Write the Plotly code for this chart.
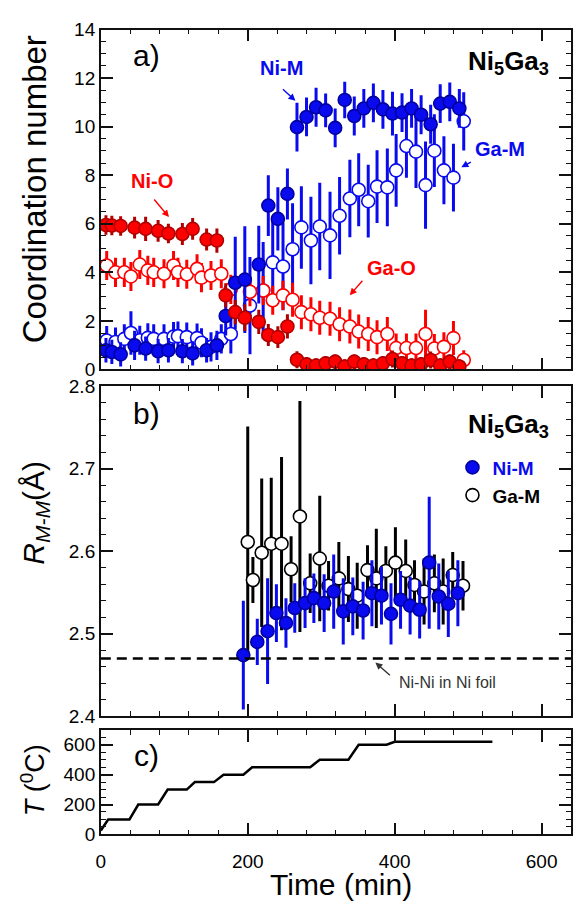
import plotly.graph_objects as go

# ---------------- panel a: coordination numbers ----------------
# Ni K-edge fits
ni_time = [7, 15, 27, 46, 61, 78, 92, 111, 125, 144, 158, 170, 183, 196, 215, 228,
           241, 254, 267, 280, 293, 306, 319, 332, 345, 358, 371, 384, 397, 410,
           423, 436, 449, 462, 475, 488]
ni_m_cn = [0.79, 0.72, 0.62, 0.99, 0.86, 0.75, 0.79, 0.75, 0.66, 0.79, 0.99, 2.2,
           3.57, 3.7, 4.32, 6.75, 6.2, 7.23, 9.98, 10.4, 10.8, 10.67, 9.95, 11.1,
           10.44, 10.75, 10.98, 10.71, 10.54, 10.58, 10.75, 10.49, 10.1, 10.95,
           11.02, 10.75]
ni_m_err = [0.5, 0.5, 0.5, 0.6, 0.5, 0.5, 0.5, 0.5, 0.5, 0.5, 0.6, 0.8,
            1.9, 2.2, 1.6, 1.25, 1.3, 1.05, 1.0, 0.8, 0.8, 0.7, 0.8, 0.75,
            0.8, 0.8, 0.8, 0.8, 0.9, 0.8, 0.8, 0.8, 0.8, 0.8, 0.8, 0.8]
ni_o_cn = [5.95, 5.93, 5.91, 5.84, 5.79, 5.71, 5.6, 5.58, 5.79, 5.35, 5.31, 3.05,
           2.36, 2.13, 1.96, 1.42, 1.33, 1.77, 0.4, 0.21, 0.16, 0.25, 0.32, 0.12,
           0.32, 0.21, 0.16, 0.25, 0.43, 0.25, 0.16, 0.21, 0.39, 0.16, 0.32, 0.12]
ni_o_err = [0.4, 0.4, 0.4, 0.45, 0.5, 0.45, 0.4, 0.45, 0.45, 0.45, 0.5, 0.5,
            0.5, 0.55, 0.5, 0.45, 0.45, 0.5, 0.35, 0.3, 0.3, 0.3, 0.3, 0.3,
            0.3, 0.3, 0.3, 0.3, 0.35, 0.3, 0.3, 0.3, 0.35, 0.3, 0.3, 0.3]

# Ga K-edge fits
ga_time = [8, 20, 32, 41, 53, 64, 72, 86, 99, 105, 117, 131, 137, 150, 164, 177,
           203, 221, 234, 248, 261, 273, 286, 298, 312, 325, 339, 351, 364, 376,
           390, 402, 416, 429, 442, 454, 467, 480, 494]
ga_m_cn = [1.19, 1.13, 1.26, 1.5, 1.2, 1.3, 1.26, 1.26, 1.35, 1.37, 1.33, 1.29, 1.1,
           0.93, 1.26, 1.46, 2.63, 3.25, 4.41, 4.24, 4.95, 5.85, 5.31, 5.89, 5.52,
           6.33, 7.04, 7.4, 6.93, 7.53, 7.5, 8.2, 9.2, 8.97, 7.59, 9.01, 8.2, 7.9,
           10.22]
ga_m_err = [0.6, 0.6, 0.6, 0.9, 0.6, 0.6, 0.6, 0.6, 0.6, 0.6, 0.6, 0.6, 0.6,
            0.6, 0.6, 0.8, 2.0, 2.0, 1.7, 1.8, 1.9, 1.7, 1.8, 1.8, 1.8,
            1.6, 1.6, 1.5, 1.5, 1.5, 1.6, 1.5, 1.3, 1.5, 1.8, 1.5, 1.4, 1.4,
            1.2]
ga_o_cn = [4.28, 4.0, 4.0, 3.83, 4.32, 4.08, 4.0, 3.94, 4.28, 4.0, 3.92, 4.14, 3.78,
           3.87, 3.94, 3.3, 3.2, 3.25, 2.85, 3.05, 2.87, 2.36, 2.27, 2.13, 2.09,
           1.86, 1.77, 1.56, 1.46, 1.33, 1.46, 0.88, 0.88, 0.88, 1.46, 0.86, 0.93,
           1.29, 0.39]
ga_o_err = [0.6, 0.6, 0.6, 0.6, 0.6, 0.6, 0.6, 0.6, 0.6, 0.6, 0.6, 0.6, 0.6,
            0.6, 0.6, 0.6, 0.6, 0.6, 0.6, 0.6, 0.7, 0.7, 0.7, 0.7, 0.7,
            0.7, 0.7, 0.7, 0.7, 0.7, 0.7, 0.6, 0.6, 0.6, 1.0, 0.6, 0.6, 0.7,
            0.4]

# ---------------- panel b: M-M distances ----------------
rb_ni_time = [194, 213, 227, 239, 252, 264, 278, 290, 304, 317, 330, 343, 357, 369,
              382, 395, 408, 421, 434, 447, 460, 473, 486]
rb_ni_r = [2.474, 2.490, 2.503, 2.525, 2.513, 2.531, 2.537, 2.543, 2.537, 2.551,
           2.527, 2.533, 2.528, 2.549, 2.546, 2.524, 2.541, 2.534, 2.529, 2.586,
           2.545, 2.536, 2.549]
rb_ni_err = [0.066, 0.028, 0.064, 0.035, 0.03, 0.03, 0.03, 0.03, 0.035, 0.045,
             0.04, 0.035, 0.035, 0.04, 0.035, 0.037, 0.035, 0.035, 0.035, 0.08,
             0.04, 0.04, 0.04]
rb_ga_time = [200, 207, 219, 232, 246, 259, 271, 285, 298, 310, 324, 337, 349, 363,
              375, 388, 401, 415, 427, 440, 454, 466, 479, 493]
rb_ga_r = [2.611, 2.565, 2.598, 2.609, 2.609, 2.578, 2.642, 2.561, 2.591, 2.558,
           2.567, 2.554, 2.546, 2.577, 2.567, 2.576, 2.586, 2.576, 2.559, 2.551,
           2.561, 2.551, 2.571, 2.558]
rb_ga_err = [0.14, 0.028, 0.09, 0.08, 0.105, 0.04, 0.14, 0.036, 0.076, 0.03,
             0.044, 0.04, 0.04, 0.03, 0.06, 0.03, 0.043, 0.038, 0.03, 0.04,
             0.035, 0.04, 0.028, 0.03]
ni_foil_r = 2.47

# ---------------- panel c: temperature programme ----------------
temp_time = [0, 10, 39, 51, 78, 91, 117, 128, 154, 167, 194, 206, 285, 298, 337,
             351, 389, 400, 533]
temp_c = [25, 100, 100, 200, 200, 300, 300, 350, 350, 400, 400, 450, 450, 500, 500,
          600, 600, 620, 620]

BLUE = "#0a0aee"
RED = "#ff0000"
DARKRED = "#b00000"
FONT = "Liberation Sans, Arial, sans-serif"
W = 573.0
H = 903.0


def ydom(top_px, bottom_px):
    return [1 - bottom_px / H, 1 - top_px / H]


fig = go.Figure()


def errs(x, y, e, color, face, line_col, xa, ya, name=None, legend=False,
         ecolor=None, thick=3):
    fig.add_trace(go.Scatter(
        x=x, y=y, mode="markers", xaxis=xa, yaxis=ya,
        name=name, showlegend=legend,
        marker=dict(size=13, color=face, line=dict(color=line_col, width=1.6)),
        error_y=dict(type="data", array=e, visible=True, width=0,
                     thickness=thick, color=ecolor or color),
    ))


# panel a
errs(ga_time, ga_m_cn, ga_m_err, BLUE, "white", BLUE, "x", "y")
errs(ga_time, ga_o_cn, ga_o_err, RED, "white", RED, "x", "y")
errs(ni_time, ni_m_cn, ni_m_err, BLUE, BLUE, "#0000a0", "x", "y")
errs(ni_time, ni_o_cn, ni_o_err, RED, RED, DARKRED, "x", "y", ecolor=DARKRED)

# panel b
errs(rb_ga_time, rb_ga_r, rb_ga_err, "black", "white", "black", "x2", "y2",
     name="<b>Ga-M</b>", legend=True, thick=3)
errs(rb_ni_time, rb_ni_r, rb_ni_err, BLUE, BLUE, "#0000a0", "x2", "y2",
     name="<b><span style='color:#0a0aee'>Ni-M</span></b>", legend=True, thick=3)
fig.add_trace(go.Scatter(x=[0, 640], y=[ni_foil_r, ni_foil_r], mode="lines",
                         xaxis="x2", yaxis="y2", showlegend=False,
                         line=dict(color="black", width=2.5, dash="10px,6px")))

# panel c
fig.add_trace(go.Scatter(x=temp_time, y=temp_c, mode="lines", xaxis="x3",
                         yaxis="y3", showlegend=False,
                         line=dict(color="black", width=2.5)))

axis_common = dict(
    showline=True, linecolor="#111", linewidth=1.6, mirror="allticks",
    ticks="inside", ticklen=12, tickwidth=1.5, tickcolor="#111",
    showgrid=False, zeroline=False,
    tickfont=dict(family=FONT, size=19, color="black"),
)
xdom = [97 / W, 1.0]
xcommon = dict(axis_common, range=[0, 640], tick0=0, dtick=200, domain=xdom,
               minor=dict(dtick=40, ticklen=5, ticks="inside", tickcolor="#111",
                          tickwidth=1.3))

fig.update_layout(
    width=573, height=903,
    margin=dict(l=0, r=0, t=0, b=0),
    paper_bgcolor="white", plot_bgcolor="white",
    font=dict(family=FONT, color="black"),
    xaxis=dict(xcommon, anchor="y", showticklabels=False),
    xaxis2=dict(xcommon, anchor="y2", showticklabels=False, matches="x"),
    xaxis3=dict(xcommon, anchor="y3", matches="x", ticklabelstandoff=9),
    yaxis=dict(axis_common, anchor="x", domain=ydom(20, 368), range=[0, 14],
               dtick=2, minor=dict(dtick=0.5, ticklen=5, ticks="inside",
                                   tickcolor="#111", tickwidth=1.3)),
    yaxis2=dict(axis_common, anchor="x2", domain=ydom(385, 723),
                range=[2.4, 2.8], dtick=0.1, tickformat=".1f",
                minor=dict(dtick=0.02, ticklen=5, ticks="inside",
                           tickcolor="#111", tickwidth=1.3)),
    yaxis3=dict(axis_common, anchor="x3", domain=ydom(737, 844),
                range=[0, 700], tick0=0, dtick=200,
                minor=dict(dtick=50, ticklen=5, ticks="inside",
                           tickcolor="#111", tickwidth=1.3)),
    legend=dict(x=453 / W, y=1 - 449 / H, xanchor="left", yanchor="top",
                bgcolor="rgba(0,0,0,0)", traceorder="reversed",
                font=dict(family=FONT, size=19, color="black"),
                itemwidth=30, tracegroupgap=0),
)


def paper_text(txt, px, py, size, color="black", angle=0):
    fig.add_annotation(text=txt, x=px / W, y=1 - py / H, xref="paper",
                       yref="paper", showarrow=False, textangle=angle,
                       xanchor="center", yanchor="middle",
                       font=dict(family=FONT, size=size, color=color))


paper_text("a)", 143, 47, 30)
paper_text("b)", 143, 413, 30)
paper_text("c)", 143, 763, 30)
paper_text("<b>Ni<sub>5</sub>Ga<sub>3</sub></b>", 510, 54, 26)
paper_text("<b>Ni<sub>5</sub>Ga<sub>3</sub></b>", 510, 425, 26)
paper_text("Coordination number", 30, 184, 33, angle=-90)
paper_text("<i>R</i><sub><i>M-M</i></sub>(Å)", 30, 515, 30, angle=-90)
paper_text("<i>T</i> (<sup>0</sup>C)", 28, 789, 27, angle=-90)
paper_text("Time (min)", 340, 895, 30)


def arrow_label(txt, tx, ty, tail_x, tail_y, hx, hy, color, size=20, bold=True):
    paper_text(("<b>%s</b>" % txt) if bold else txt, tx, ty, size, color)
    fig.add_annotation(x=hx / W, y=1 - hy / H, xref="paper", yref="paper",
                       ax=tail_x - hx, ay=tail_y - hy, axref="pixel",
                       ayref="pixel", text="", showarrow=True, arrowhead=2,
                       arrowsize=1, arrowwidth=1.4, arrowcolor=color)


arrow_label("Ni-M", 280, 59, 280, 80, 294, 93, BLUE)
arrow_label("Ga-M", 501, 142, 473, 155, 462, 161, BLUE)
arrow_label("Ni-O", 149, 175, 150, 193, 166, 212, RED)
arrow_label("Ga-O", 391, 264, 363, 276, 349, 292, RED)
arrow_label("Ni-Ni in Ni foil", 448, 689, 391, 682, 375, 668, "#333", size=16,
            bold=False)

fig.write_html("out.html")
